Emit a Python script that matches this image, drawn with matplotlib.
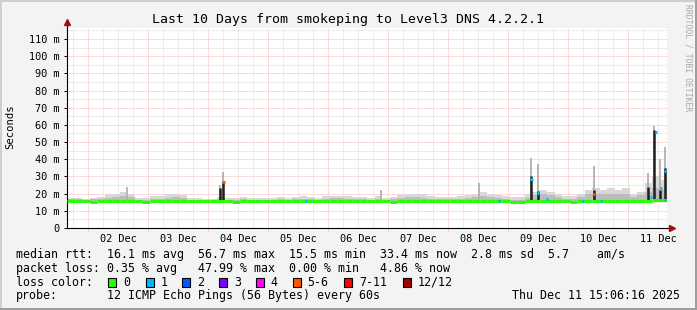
import numpy as np
import matplotlib
matplotlib.use("Agg")
import matplotlib.pyplot as plt
from matplotlib.patches import Rectangle

W, H = 697, 310
MONO = "DejaVu Sans Mono"

# hours since left edge of graph (Dec 1 ~15:06), one reading every 3 h
bin_hours = np.arange(0, 243, 3)

median_ms = [15.8, 15.8, 15.6, 15.4, 15.8, 15.8, 15.8, 15.8, 15.8, 15.5,
             15.4, 15.8, 15.8, 15.8, 15.8, 15.8, 15.8, 15.6, 15.8, 15.8,
             15.8, 15.6, 15.4, 15.6, 15.8, 15.8, 15.6, 15.8, 15.8, 15.8,
             15.8, 15.6, 15.8, 15.5, 15.8, 15.8, 15.8, 15.8, 15.8, 15.8,
             15.8, 15.5, 15.8, 15.4, 15.8, 15.8, 15.8, 15.8, 15.8, 15.8,
             15.8, 15.8, 15.8, 15.8, 15.8, 15.8, 15.8, 15.8, 15.8, 15.3,
             15.4, 15.8, 15.9, 16.0, 15.8, 15.8, 15.5, 15.4, 15.8, 15.9,
             16.0, 15.8, 15.8, 15.9, 15.8, 15.8, 15.8, 16.0, 16.3, 16.2]

smoke_hi_ms = [17.5, 17.5, 17.0, 17.5, 18.0, 19.5, 20.0, 21.0, 20.0, 17.5,
               17.5, 18.5, 18.5, 19.5, 20.0, 19.0, 17.5, 17.5, 17.0, 17.0,
               18.0, 17.5, 17.5, 18.0, 17.5, 17.5, 17.5, 17.5, 18.0, 17.5,
               18.0, 18.5, 18.0, 17.5, 18.5, 18.5, 18.5, 18.5, 18.0, 18.0,
               17.5, 18.5, 17.5, 18.0, 19.0, 19.5, 20.0, 19.5, 18.5, 18.0,
               18.0, 18.0, 18.5, 19.0, 20.0, 21.0, 19.5, 19.0, 18.5, 18.0,
               18.0, 19.5, 21.0, 22.0, 21.0, 20.0, 18.5, 18.5, 20.0, 22.0,
               23.0, 22.0, 23.0, 22.0, 23.0, 19.5, 21.0, 26.0, 30.0, 28.0]

smoke_mid_ms = [16.8, 16.8, 16.5, 16.8, 17.0, 17.5, 18.0, 18.5, 18.0, 16.5,
                16.5, 17.0, 17.0, 17.5, 18.0, 17.5, 16.5, 16.5, 16.5, 16.5,
                17.0, 16.5, 16.5, 17.0, 16.5, 16.5, 16.5, 16.5, 17.0, 16.5,
                17.0, 17.0, 17.0, 16.5, 17.0, 17.5, 17.5, 17.0, 17.0, 17.0,
                16.5, 17.0, 16.5, 17.0, 17.5, 18.0, 18.0, 17.5, 17.0, 17.0,
                17.0, 17.0, 17.0, 17.5, 18.0, 18.5, 18.0, 17.5, 17.0, 16.5,
                16.5, 17.5, 19.0, 19.5, 19.0, 18.0, 17.0, 17.0, 18.0, 19.5,
                20.0, 19.5, 20.0, 19.5, 20.0, 18.0, 19.0, 21.0, 23.0, 22.0]

# narrow spikes (hours, smoke top, dark median column top; 0 = none)
spike_hours = [24.0, 61.2, 62.2, 125.6, 164.8, 185.6, 188.4, 210.8, 232.4, 234.8, 237.2, 239.2]
spike_smoke = [24.0, 25.0, 32.5, 22.0, 26.0, 40.5, 37.5, 36.0, 32.0, 59.5, 40.0, 47.0]
spike_dark = [0, 23.0, 27.0, 0, 0, 30.0, 21.5, 22.0, 24.0, 57.0, 22.0, 35.0]

# median points drawn with a loss colour other than green
loss_hours = [95.6, 172.8, 62.6, 185.8, 188.4, 192.0, 210.8, 206.4, 213.6, 233.6, 235.6, 237.6, 239.2, 239.2]
loss_ms = [15.8, 15.8, 26.5, 28.5, 20.5, 17.0, 19.5, 15.8, 15.8, 18.0, 56.0, 23.5, 16.3, 33.0]
loss_class = [1, 1, 5, 1, 1, 1, 5, 1, 1, 1, 1, 1, 1, 1]

loss_labels = ["0", "1", "2", "3", "4", "5-6", "7-11", "12/12"]
loss_colors = ["#26ff00", "#00b8ff", "#0059ff", "#7e00ff", "#ff00ff", "#ff5500", "#ff0000", "#a10000"]

day_labels = ["02 Dec", "03 Dec", "04 Dec", "05 Dec", "06 Dec",
              "07 Dec", "08 Dec", "09 Dec", "10 Dec", "11 Dec"]

legend_lines = [
    "median rtt:  16.1 ms avg  56.7 ms max  15.5 ms min  33.4 ms now  2.8 ms sd  5.7    am/s",
    "packet loss: 0.35 % avg   47.99 % max  0.00 % min   4.86 % now",
]
probe_text = "12 ICMP Echo Pings (56 Bytes) every 60s"
stamp_text = "Thu Dec 11 15:06:16 2025"
title = "Last 10 Days from smokeping to Level3 DNS 4.2.2.1"

YMAX = 116.4
first_midnight = 8.4
GRID = "#dddddd"
MGRID = "#f6b8b8"

fig = plt.figure(figsize=(W / 100, H / 100), dpi=100, facecolor="#f3f3f3")
ax = fig.add_axes([67 / W, (H - 228) / H, 600 / W, 200 / H])
ax.set_facecolor("white")
ax.set_xlim(0, 240)
ax.set_ylim(0, YMAX)

# grid
six_h = np.arange(first_midnight - 6, 240, 6)
midn = np.arange(first_midnight, 240, 24)
ax.vlines([h for h in six_h if min(abs(h - midn)) > 0.1], 0, YMAX, colors=GRID,
          linestyles=(0, (1, 1)), lw=0.72, zorder=1)
ax.vlines(midn, 0, YMAX, colors=MGRID, linestyles=(0, (1, 1)), lw=0.72, zorder=1)
ax.hlines(np.arange(5, 116, 10), 0, 240, colors=GRID, linestyles=(0, (1, 1)), lw=0.72, zorder=1)
ax.hlines(np.arange(10, 116, 10), 0, 240, colors=MGRID, linestyles=(0, (1, 1)), lw=0.72, zorder=1)

# smoke
edges = np.append(bin_hours[:80], 240)
hi = np.append(smoke_hi_ms, smoke_hi_ms[-1])
mid = np.append(smoke_mid_ms, smoke_mid_ms[-1])
med = np.append(median_ms, median_ms[-1])
ax.fill_between(edges, med, hi, step="post", color="#d8d8d8", lw=0, zorder=2)
ax.fill_between(edges, med, mid, step="post", color="#bcbcbc", lw=0, zorder=2.1)

for h, s, d in zip(spike_hours, spike_smoke, spike_dark):
    ax.vlines(h, 16, s, colors="#b0b0b0", lw=1.3, zorder=2.2)
    if d:
        ax.vlines(h, 16, d, colors="#202020", lw=1.8, zorder=2.3)

# median line
ax.hlines(median_ms, bin_hours[:80], bin_hours[:80] + 3, colors=loss_colors[0], lw=2.2, zorder=3)
for h, v, c in zip(loss_hours, loss_ms, loss_class):
    ax.hlines(v, h - 0.5, h + 0.5, colors=loss_colors[c], lw=2.2, zorder=4)

# axes styling
for sp in ["top", "right"]:
    ax.spines[sp].set_visible(False)
for sp in ["left", "bottom"]:
    ax.spines[sp].set_linewidth(0.8)
    ax.spines[sp].set_color("black")
ax.set_yticks(np.arange(0, 111, 10))
ax.set_yticklabels(["0"] + [f"{v} m" for v in range(10, 111, 10)])
ax.set_xticks(first_midnight + 12 + 24 * np.arange(10))
ax.set_xticklabels(day_labels)
ax.set_xticks(midn, minor=True)
ax.tick_params(axis="y", length=2.2, width=0.7, pad=2.9, labelsize=7.4, colors="black")
ax.tick_params(axis="x", which="major", length=0, pad=4.0, labelsize=7.4)
ax.tick_params(axis="x", which="minor", length=2.2, width=0.7, color=MGRID)
for lab in ax.get_xticklabels() + ax.get_yticklabels():
    lab.set_family(MONO)

# axis arrows
ax.plot([0, 0], [1, 1.025], color="black", lw=0.8, transform=ax.transAxes, clip_on=False)
ax.plot([0], [1.03], marker="^", ms=4, color="#a01010", transform=ax.transAxes, clip_on=False)
ax.plot([1, 1.006], [0, 0], color="black", lw=0.8, transform=ax.transAxes, clip_on=False)
ax.plot([1.008], [0], marker=">", ms=4, color="#a01010", transform=ax.transAxes, clip_on=False)


def px(x, y):
    return x / W, 1 - y / H


fig.text(*px(348, 19), title, family=MONO, fontsize=9.5, ha="center", va="center")
fig.text(*px(10, 127), "Seconds", family=MONO, fontsize=7.6, rotation=90, ha="center", va="center")
fig.text(*px(688, 4), "RRDTOOL / TOBI OETIKER", family=MONO, fontsize=5.8, rotation=-90,
         ha="center", va="top", color="#a8a8a8")

fs = 8.4
fig.text(*px(16, 254.3), legend_lines[0], family=MONO, fontsize=fs, va="center")
fig.text(*px(16, 268.3), legend_lines[1], family=MONO, fontsize=fs, va="center")
fig.text(*px(16, 282.3), "loss color:", family=MONO, fontsize=fs, va="center")
box_x = [108, 145.7, 182.3, 219, 255.7, 292.7, 344.3, 402.7]
for bx, lab, col in zip(box_x, loss_labels, loss_colors):
    fig.patches.append(Rectangle((bx / W, 1 - 287 / H), 8 / W, 9 / H, transform=fig.transFigure,
                                 facecolor=col, edgecolor="black", lw=0.8))
    fig.text(*px(bx + 15, 282.3), lab, family=MONO, fontsize=fs, va="center")
fig.text(*px(16, 295.7), "probe:", family=MONO, fontsize=fs, va="center")
fig.text(*px(107, 295.7), probe_text, family=MONO, fontsize=fs, va="center")
fig.text(*px(680, 295.7), stamp_text, family=MONO, fontsize=fs, va="center", ha="right")

# 3d-ish border
fig.patches.append(Rectangle((0, 0), 2 / W, 1, transform=fig.transFigure, color="#cfcfcf", lw=0))
fig.patches.append(Rectangle((0, 1 - 2 / H), 1, 2 / H, transform=fig.transFigure, color="#cfcfcf", lw=0))
fig.patches.append(Rectangle((1 - 2 / W, 0), 2 / W, 1, transform=fig.transFigure, color="#9e9e9e", lw=0))
fig.patches.append(Rectangle((0, 0), 1, 2 / H, transform=fig.transFigure, color="#9e9e9e", lw=0))

fig.savefig("out.png", dpi=100, facecolor=fig.get_facecolor())
